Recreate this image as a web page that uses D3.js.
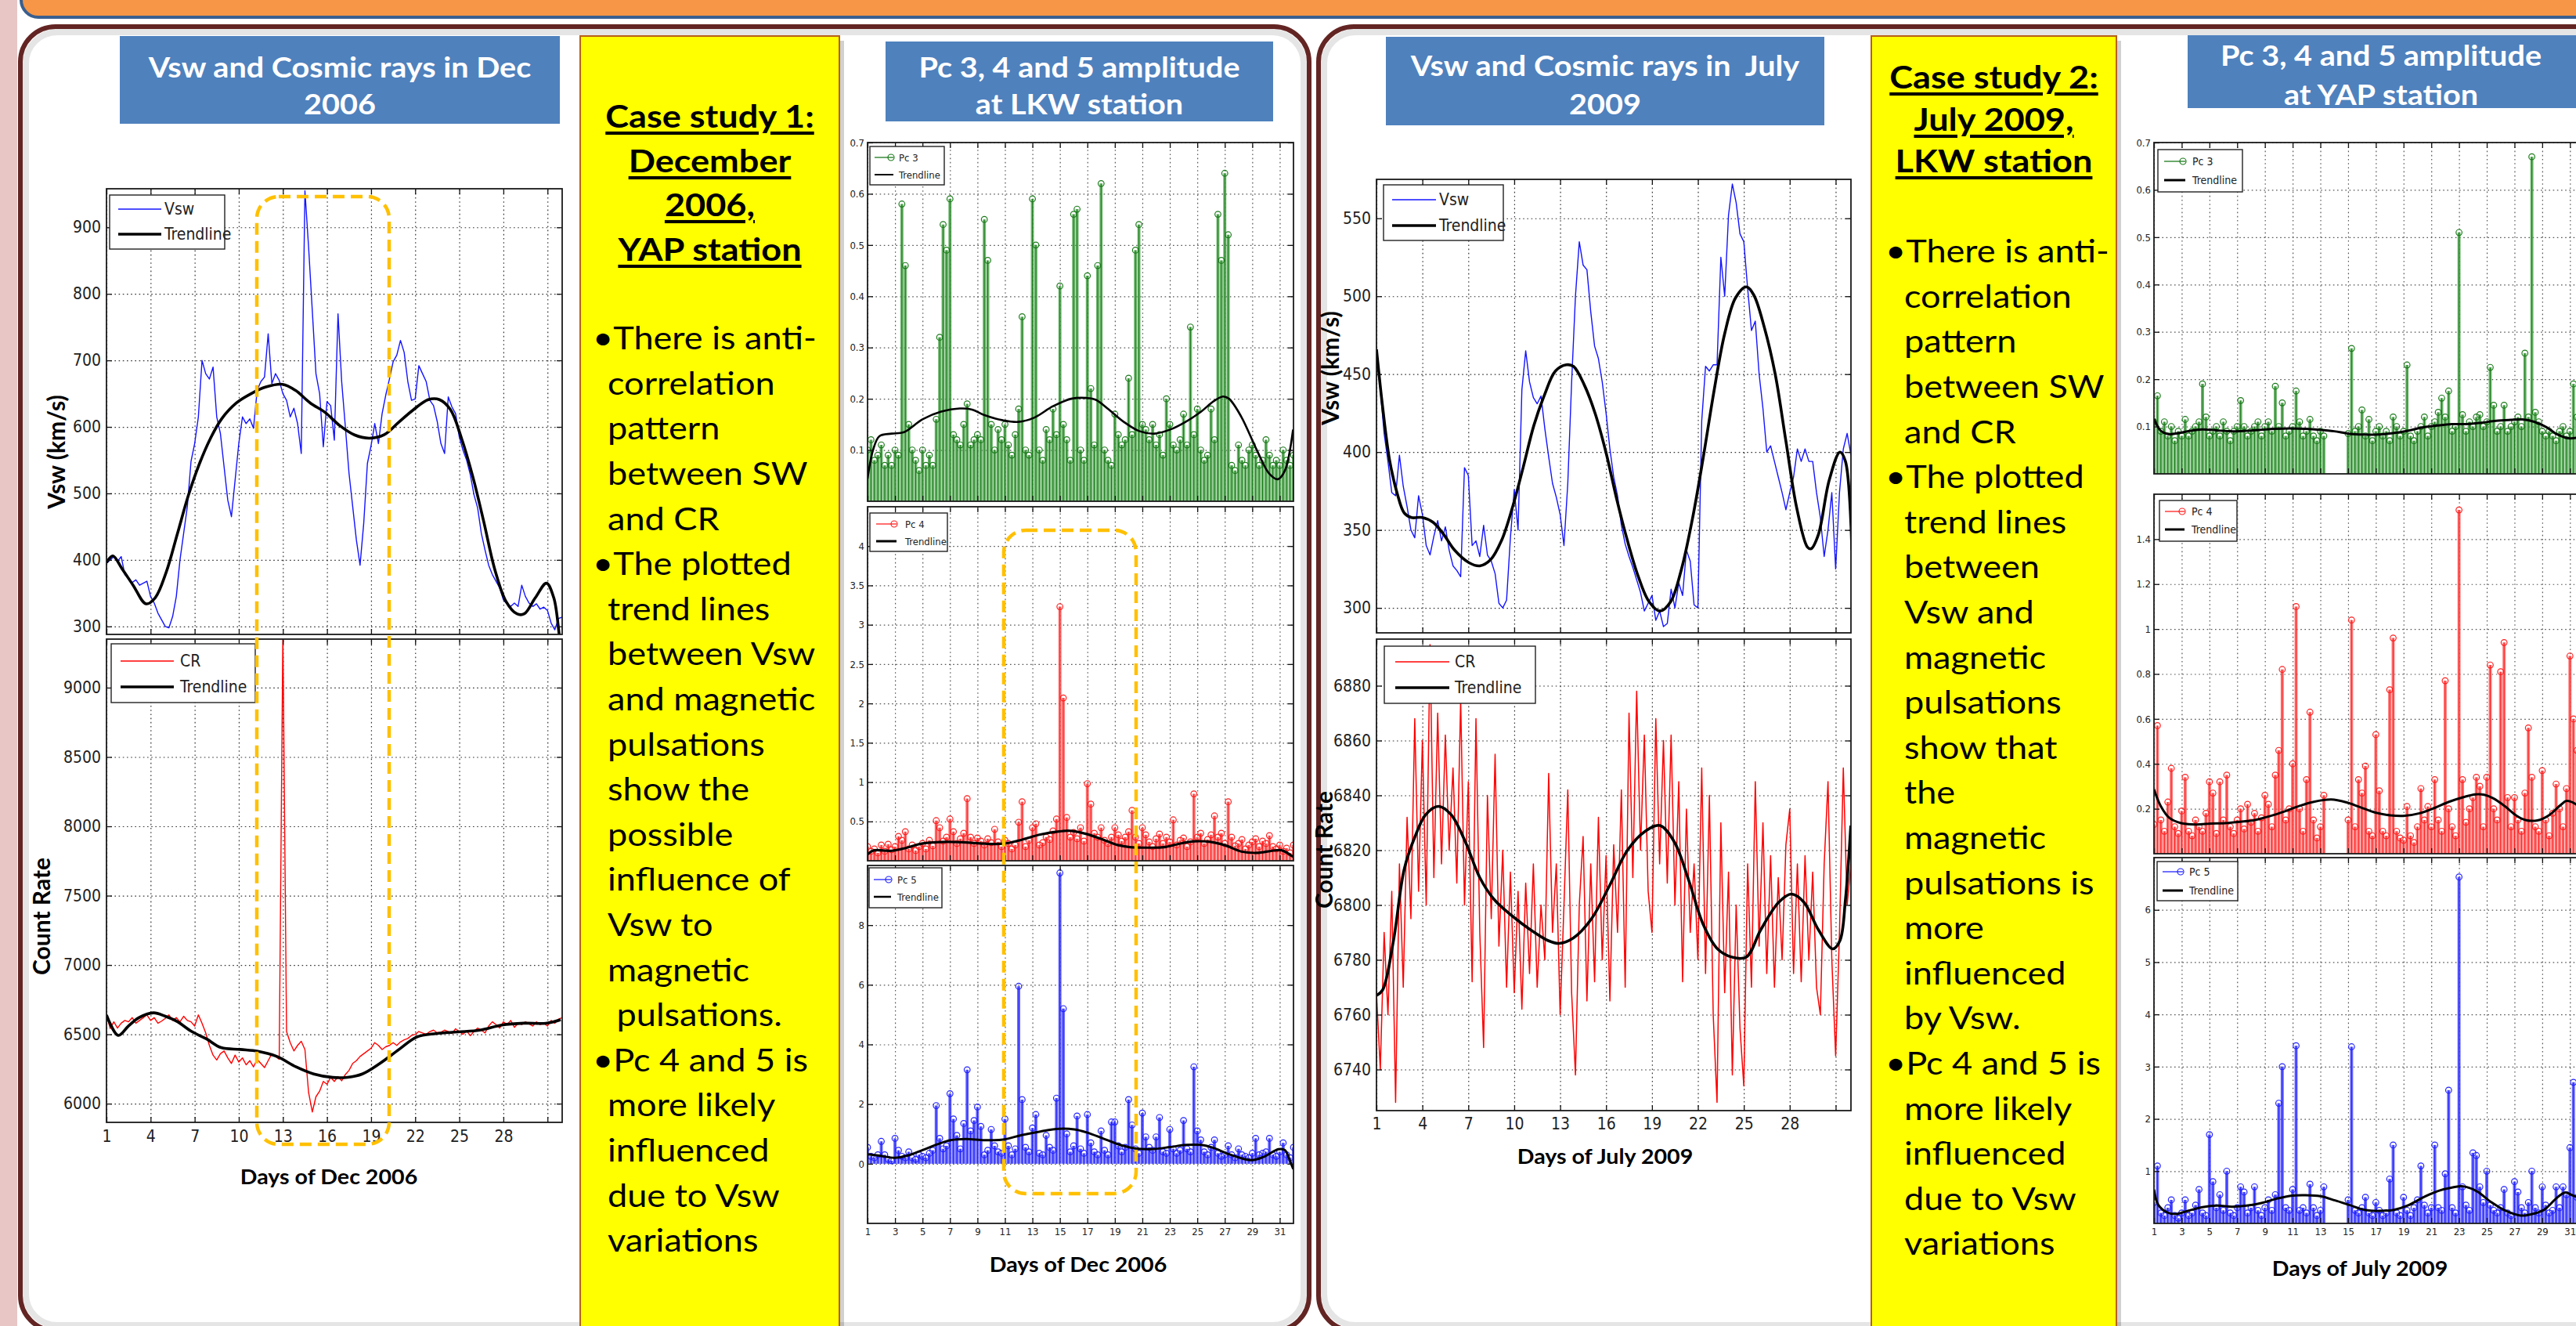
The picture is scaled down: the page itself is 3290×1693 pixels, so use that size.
<!DOCTYPE html>
<html><head><meta charset="utf-8">
<script src="https://cdn.jsdelivr.net/npm/d3@7"></script>
<style>body{margin:0;background:#fff;overflow:hidden}svg{display:block}</style>
</head><body>
<svg id="c" width="3290" height="1693"></svg>
<script>
// ================= DATA =================
const STEP = 0.25; // samples every 6 hours starting on day 1
// --- Dec 2006 solar wind speed (km/s) ---
const vswDec = [395,400,405,398,405,378,372,366,370,362,
365,368,345,335,320,310,300,298,315,345,
400,440,480,548,575,615,700,680,672,690,
615,590,540,490,465,520,575,615,605,612,
598,655,668,675,740,665,680,670,650,640,
615,628,605,560,955,870,775,680,650,570,
638,632,580,770,668,600,530,480,430,392,
455,545,572,605,575,620,648,672,698,708,
730,712,668,640,642,692,680,668,640,632,
608,575,560,645,630,620,585,565,550,528,
498,478,440,415,392,378,368,358,340,334,
330,335,330,362,345,335,330,334,326,329,
324,305,295,312,314];
const vswDecTrend = [[1,396],[1.43,406],[2.05,387],[2.81,362],[3.69,334],[4.31,343],[5.07,382],[5.82,439],[6.57,497],[7.33,545],[8.08,583],[8.83,612],[9.84,636],[10.84,650],[11.85,660],[12.98,664],[13.85,655],[14.86,636],[15.86,622],[16.87,602],[17.87,588],[18.88,583],[19.88,588],[20.88,607],[21.89,626],[22.89,641],[23.65,641],[24.4,626],[25.15,583],[25.91,526],[26.66,458],[27.41,386],[28.17,338],[28.92,319],[29.42,319],[30.17,343],[30.93,365],[31.43,343],[31.81,286],[31.98,260]];
// --- Dec 2006 cosmic ray count rate ---
const crDec = [6643,6542,6590,6545,6580,6600,6590,6620,6580,6600,
6620,6640,6600,6620,6580,6595,6615,6640,6600,6620,
6590,6630,6600,6590,6560,6640,6580,6510,6420,6350,
6315,6360,6380,6330,6290,6350,6300,6330,6280,6310,
6265,6320,6290,6260,6310,6360,6340,6320,9400,6520,
6440,6380,6420,6450,6390,6080,5940,6050,6090,6160,
6140,6190,6160,6195,6165,6210,6240,6290,6310,6340,
6360,6380,6400,6440,6420,6390,6410,6420,6440,6420,
6445,6460,6470,6492,6500,6520,6510,6500,6520,6530,
6510,6515,6530,6520,6505,6540,6520,6500,6525,6490,
6520,6545,6530,6510,6560,6590,6570,6545,6590,6570,
6600,6550,6580,6570,6590,6575,6560,6590,6570,6580,
6560,6600,6580,6610,6620];
const crDecTrend = [[1,6640],[1.8,6492],[2.5,6560],[3.2,6620],[4.2,6655],[5,6630],[5.8,6593],[6.8,6520],[7.8,6467],[8.8,6404],[10.1,6391],[11.3,6378],[12.6,6340],[13.9,6265],[15.1,6214],[16.4,6189],[17.4,6190],[18.4,6214],[19.6,6290],[20.9,6391],[22.1,6480],[23.4,6505],[24.9,6517],[26.4,6530],[27.9,6567],[29.4,6580],[30.9,6580],[31.9,6605]];
// --- Dec 2006 Pc amplitudes at LKW ---
const pc3Dec = [.10,.12,.08,.09,.11,.07,.09,.07,.10,.09,
.58,.46,.15,.10,.08,.06,.10,.07,.09,.07,
.16,.32,.54,.49,.59,.13,.12,.11,.15,.19,
.11,.12,.13,.12,.55,.47,.15,.10,.14,.12,
.15,.11,.09,.13,.18,.36,.10,.09,.59,.50,
.10,.08,.14,.12,.18,.13,.42,.15,.12,.08,
.56,.57,.10,.08,.44,.22,.11,.46,.62,.10,
.08,.07,.17,.13,.11,.12,.24,.13,.49,.54,
.15,.14,.12,.15,.11,.13,.09,.20,.15,.11,
.10,.12,.17,.11,.34,.13,.18,.10,.08,.09,
.18,.12,.56,.47,.64,.52,.07,.06,.11,.08,
.07,.10,.11,.09,.07,.08,.12,.09,.07,.08,
.07,.10,.08,.07,.09];
const pc3DecTrend = [[1,0.044],[1.4,0.10],[1.86,0.127],[2.76,0.132],[3.66,0.135],[5,0.16],[6.36,0.175],[7.71,0.181],[8.61,0.179],[9.51,0.168],[10.86,0.158],[11.99,0.155],[13.12,0.163],[14.47,0.185],[15.82,0.20],[16.95,0.2015],[17.62,0.198],[18.52,0.18],[19.65,0.155],[20.77,0.137],[21.9,0.132],[23.03,0.14],[24.15,0.155],[25.28,0.175],[26.18,0.195],[26.86,0.2045],[27.31,0.20],[28.2,0.165],[29.33,0.10],[30.23,0.054],[30.86,0.043],[31.36,0.059],[31.97,0.14]];
const pc4Dec = [.18,.12,.15,.10,.20,.12,.21,.14,.18,.31,
.26,.37,.15,.20,.13,.18,.22,.15,.26,.19,
.51,.42,.25,.30,.53,.37,.22,.28,.35,.79,
.30,.22,.29,.25,.20,.28,.23,.40,.24,.18,
.26,.22,.15,.20,.49,.75,.18,.26,.42,.47,
.20,.23,.30,.27,.38,.53,3.23,2.07,.55,.30,
.36,.28,.42,.25,.98,.72,.35,.30,.42,.26,
.22,.30,.42,.33,.25,.30,.37,.64,.30,.22,
.42,.33,.24,.18,.28,.34,.22,.30,.24,.52,
.20,.26,.29,.18,.24,.85,.30,.35,.22,.27,
.33,.57,.30,.35,.22,.75,.30,.19,.22,.27,
.15,.20,.24,.28,.18,.25,.22,.32,.18,.15,
.20,.12,.16,.10,.20];
const pc4DecTrend = [[1,0.08],[1.41,0.13],[2.76,0.127],[3.88,0.167],[5.01,0.22],[6.81,0.24],[8.16,0.233],[9.51,0.217],[10.86,0.217],[12.22,0.267],[13.57,0.333],[14.92,0.373],[15.82,0.38],[16.95,0.34],[18.07,0.273],[19.2,0.20],[20.1,0.173],[21.45,0.167],[22.58,0.173],[23.7,0.217],[24.83,0.247],[25.95,0.24],[27.08,0.193],[28.21,0.117],[29.33,0.10],[30.46,0.127],[31.14,0.133],[31.97,0.05]];
const pc5Dec = [.55,.25,.20,.30,.75,.30,.15,.10,.85,.45,
.25,.20,.40,.20,.15,.30,.25,.20,.35,.45,
1.95,.85,.50,.60,2.35,1.50,.95,.50,1.35,3.15,
1.10,1.45,1.90,1.25,.30,.45,1.15,.60,.40,.35,
1.50,.60,.30,.50,5.95,2.15,.55,.40,1.20,1.65,
.35,.30,.95,.55,.45,2.20,9.75,5.20,1.00,.40,
.60,1.60,.50,.35,1.65,.70,.40,.30,1.10,.45,
.30,1.40,1.40,.60,.40,.55,2.15,1.30,.50,.35,
1.70,.90,.55,.45,.90,1.55,.40,.35,1.15,.50,
.35,.45,1.45,.50,.40,3.25,1.10,.80,.40,.30,
.55,.80,.35,.25,.30,.60,.30,.20,.50,.30,
.25,.20,.35,.85,.30,.35,.40,.85,.30,.25,
.40,.70,.30,.20,.55];
const pc5DecTrend = [[1,0.32],[1.86,0.27],[2.98,0.2],[3.88,0.27],[5.01,0.46],[6.14,0.66],[7.04,0.79],[8.16,0.83],[9.51,0.79],[10.86,0.81],[12.22,0.96],[13.57,1.08],[14.92,1.17],[16.05,1.15],[16.95,1.05],[18.07,0.86],[19.2,0.66],[20.32,0.53],[21.68,0.49],[23.03,0.56],[24.15,0.63],[25.28,0.63],[26.18,0.53],[27.31,0.32],[28.88,0.12],[29.78,0.22],[30.91,0.49],[31.36,0.46],[31.81,0.02],[31.99,-0.18]];
// --- July 2009 solar wind speed ---
const vswJul = [465,440,412,394,374,372,398,378,365,350,
345,372,360,340,334,346,356,343,352,337,
327,324,320,390,385,340,343,333,353,334,
330,322,303,300,305,345,376,350,440,465,
445,435,431,436,415,397,380,371,360,340,
380,445,500,535,520,517,490,468,460,445,
425,402,384,372,353,341,333,326,318,310,
298,303,308,292,298,288,290,312,300,316,
308,337,330,302,300,420,455,452,456,456,
525,500,552,572,560,540,535,505,478,484,
450,428,400,404,394,384,374,363,374,384,
402,394,402,394,394,374,358,333,350,374,
325,374,402,412,398];
const vswJulTrend = [[1,466],[1.4,429],[1.87,394],[2.34,374],[2.81,361],[3.28,358],[3.99,358],[4.69,355],[5.4,347],[6.11,337],[7.05,329],[7.75,327],[8.46,331],[9.16,343],[9.87,364],[10.58,390],[11.28,417],[11.99,437],[12.69,452],[13.4,456],[13.87,455],[14.58,443],[15.28,425],[15.99,400],[16.69,370],[17.4,343],[18.11,320],[18.81,304],[19.52,298],[20.22,304],[20.93,325],[21.64,357],[22.34,396],[23.05,439],[23.75,476],[24.46,499],[25.16,506],[25.64,501],[26.34,480],[27.05,450],[27.75,407],[28.46,364],[29.16,339],[29.4,338],[29.87,347],[30.58,382],[31.28,400],[31.64,394],[32.06,337]];
// --- July 2009 cosmic ray count rate ---
const crJul = [6768,6740,6790,6760,6805,6728,6815,6770,6832,6795,
6868,6805,6860,6800,6895,6810,6870,6815,6862,6820,
6850,6808,6875,6800,6845,6772,6868,6790,6748,6840,
6795,6855,6785,6820,6770,6812,6768,6805,6762,6808,
6775,6815,6770,6800,6780,6848,6790,6815,6760,6800,
6842,6768,6738,6800,6825,6765,6815,6772,6832,6780,
6818,6765,6822,6790,6842,6770,6870,6810,6878,6820,
6862,6805,6790,6868,6815,6860,6808,6862,6800,6845,
6772,6835,6790,6815,6780,6850,6775,6840,6760,6728,
6830,6768,6812,6738,6800,6755,6734,6815,6770,6845,
6785,6830,6775,6818,6770,6810,6780,6822,6835,6775,
6815,6772,6818,6780,6812,6770,6760,6815,6845,6780,
6745,6790,6850,6800,6815];
const crJulTrend = [[1,6767],[1.4,6769],[2.11,6787],[2.81,6813],[3.52,6825],[4.22,6833],[5.05,6836],[5.87,6833],[6.81,6823],[7.75,6810],[8.69,6802],[9.87,6796],[11.05,6791],[12.22,6787],[12.93,6786],[13.87,6788],[15.05,6795],[16.22,6807],[17.4,6820],[18.58,6827],[19.52,6829],[20.46,6823],[21.4,6809],[22.34,6793],[23.28,6784],[24.22,6781],[25.16,6781],[26.11,6791],[27.28,6801],[28.11,6804],[28.93,6801],[29.87,6791],[30.81,6784],[31.28,6787],[31.64,6802],[31.99,6829]];
// --- July 2009 Pc amplitudes at YAP (gap = no data) ---
const N = null;
const pc3Jul = [.11,.165,.09,.11,.08,.10,.07,.09,.08,.115,
.08,.09,.10,.11,.19,.12,.08,.09,.10,.08,
.11,.09,.07,.09,.10,.155,.10,.08,.09,.10,
.11,.08,.10,.11,.09,.185,.10,.15,.08,.09,
.10,.175,.11,.08,.09,.115,.08,.07,.09,.08,
N,N,N,N,N,N,.085,.265,.09,.10,
.135,.08,.115,.07,.09,.10,.08,.09,.07,.12,
.10,.08,.09,.23,.08,.07,.09,.10,.12,.08,
.10,.11,.13,.16,.12,.175,.09,.10,.51,.125,
.09,.11,.10,.12,.125,.10,.11,.225,.145,.09,
.10,.145,.09,.10,.11,.12,.10,.255,.12,.67,
.13,.11,.09,.08,.09,.08,.07,.09,.10,.08,
.09,.19,.12,.10,.09];
const pc3JulTrend = [[1,0.116],[1.49,0.091],[2.02,0.084],[2.76,0.086],[3.61,0.091],[4.46,0.094],[5.52,0.092],[6.58,0.09],[7.64,0.091],[8.7,0.093],[9.76,0.095],[10.82,0.096],[11.88,0.095],[12.94,0.093],[14.0,0.09],[15.06,0.085],[16.12,0.083],[17.18,0.083],[18.24,0.086],[19.3,0.091],[20.36,0.098],[21.42,0.102],[22.48,0.105],[23.54,0.105],[24.61,0.108],[25.67,0.112],[26.73,0.114],[27.57,0.115],[28.42,0.11],[29.27,0.099],[30.12,0.083],[30.97,0.075],[31.99,0.08]];
const pc4Jul = [.13,.57,.15,.10,.23,.38,.12,.09,.19,.34,
.10,.08,.15,.12,.10,.18,.32,.27,.09,.32,
.15,.35,.12,.09,.15,.20,.11,.22,.14,.18,
.10,.16,.26,.22,.12,.35,.46,.82,.15,.20,
.40,1.10,.20,.10,.33,.63,.15,.07,.12,.26,
N,N,N,N,N,N,.15,1.04,.12,.33,
.27,.39,.10,.08,.53,.28,.10,.08,.73,.96,
.10,.07,.06,.21,.08,.05,.12,.29,.15,.21,
.12,.33,.15,.10,.77,.20,.12,.08,1.53,.33,
.14,.20,.25,.34,.30,.12,.34,.84,.20,.15,
.81,.94,.25,.12,.25,.15,.10,.27,.56,.34,
.12,.10,.37,.15,.08,.18,.31,.20,.12,.29,
.88,.60,.46,.20,.15];
const pc4JulTrend = [[1,0.287],[1.49,0.212],[2.12,0.159],[2.97,0.136],[4.03,0.13],[5.09,0.134],[6.15,0.136],[7.21,0.142],[8.27,0.15],[9.34,0.167],[10.4,0.188],[11.46,0.212],[12.52,0.231],[13.79,0.241],[14.85,0.229],[15.91,0.206],[16.97,0.183],[18.03,0.171],[19.09,0.169],[20.15,0.18],[21.21,0.203],[22.27,0.231],[23.33,0.252],[24.18,0.264],[24.82,0.262],[25.45,0.247],[26.3,0.212],[27.15,0.169],[27.79,0.15],[28.64,0.148],[29.48,0.171],[30.33,0.217],[30.76,0.235],[31.35,0.223],[32,0.19]];
const pc5Jul = [.40,1.10,.20,.15,.30,.45,.15,.10,.20,.45,
.15,.20,.35,.65,.20,.15,1.70,.80,.30,.55,
.25,1.00,.20,.15,.30,.70,.60,.20,.30,.70,
.25,.15,.30,.45,.25,.55,2.30,3.00,.30,.25,
.65,3.40,.25,.30,.20,.75,.30,.15,.25,.70,
N,N,N,N,N,N,.45,3.38,.25,.20,
.30,.50,.20,.15,.40,.25,.15,.20,.85,1.50,
.20,.15,.50,.25,.15,.30,.45,1.10,.35,.20,
.30,1.50,.30,.25,.95,2.55,.30,.20,6.63,.70,
.35,.25,1.35,1.30,.70,.40,1.00,.35,.25,.20,
.30,.65,.20,.15,.80,.60,.30,.20,.40,1.00,
.30,.20,.70,.35,.20,.25,.70,.30,.70,.55,
1.45,2.70,.50,.30,.20];
const pc5JulTrend = [[1,0.65],[1.32,0.35],[1.96,0.21],[2.59,0.18],[3.44,0.24],[4.5,0.31],[5.56,0.34],[6.63,0.32],[7.69,0.34],[8.75,0.39],[9.81,0.47],[10.87,0.53],[11.93,0.54],[13.0,0.52],[14.06,0.44],[15.12,0.35],[16.18,0.26],[17.24,0.24],[18.3,0.26],[19.37,0.35],[20.43,0.50],[21.49,0.62],[22.55,0.69],[23.29,0.71],[24.25,0.62],[25.31,0.41],[26.37,0.24],[27.43,0.15],[28.28,0.18],[29.13,0.26],[29.98,0.47],[30.62,0.59],[31.25,0.53],[32.06,0.45]];
// --- tick values ---
const daysBig = [1,4,7,10,13,16,19,22,25,28,31];
const daysPc = [1,3,5,7,9,11,13,15,17,19,21,23,25,27,29,31];
const vswDecTicks = [300,400,500,600,700,800,900];
const crDecTicks = [6000,6500,7000,7500,8000,8500,9000];
const vswJulTicks = [300,350,400,450,500,550];
const crJulTicks = [6740,6760,6780,6800,6820,6840,6860,6880];
const pc3Ticks = [0.1,0.2,0.3,0.4,0.5,0.6,0.7];
const pc4DecTicks = [0.5,1,1.5,2,2.5,3,3.5,4];
const pc5DecTicks = [0,2,4,6,8];
const pc4JulTicks = [0.2,0.4,0.6,0.8,1,1.2,1.4];
const pc5JulTicks = [1,2,3,4,5,6];
// --- poster texts ---
const boxTitles = [
  ["Vsw and Cosmic rays in Dec","2006"],
  ["Pc 3, 4 and 5 amplitude","at LKW station"],
  ["Vsw and Cosmic rays in  July","2009"],
  ["Pc 3, 4 and 5 amplitude","at YAP station"]];
const head1 = ["Case study 1:","December","2006,","YAP station"];
const body1 = ["\u2022There is anti-","correlation","pattern","between SW","and CR","\u2022The plotted","trend lines","between Vsw","and magnetic","pulsations","show the","possible","influence of","Vsw to","magnetic"," pulsations.","\u2022Pc 4 and 5 is","more likely","influenced","due to Vsw","variations"];
const head2 = ["Case study 2:","July 2009,","LKW station"];
const body2 = ["\u2022There is anti-","correlation","pattern","between SW","and CR","\u2022The plotted","trend lines","between","Vsw and","magnetic","pulsations","show that","the","magnetic","pulsations is","more","influenced","by Vsw.","\u2022Pc 4 and 5 is","more likely","influenced","due to Vsw","variations"];

// ================= DRAWING =================
const TICKF = "'Liberation Sans Narrow','DejaVu Sans Condensed','Liberation Sans',sans-serif";
const POSTF = "Lato,'Open Sans',sans-serif";
const SX = 1.1;
const svg = d3.select('#c');
const defs = svg.append('defs');
svg.append('rect').attr('width',3290).attr('height',1693).attr('fill','#fff');

// poster frame
svg.append('rect').attr('x',0).attr('y',0).attr('width',22).attr('height',1693).attr('fill','#E8C6C6');
svg.append('rect').attr('x',27).attr('y',-40).attr('width',3320).attr('height',62).attr('rx',22)
  .attr('fill','#F79646').attr('stroke','#3A5F8F').attr('stroke-width',4);
[[26,1646],[1684,1700]].forEach(([x,w])=>{
  svg.append('rect').attr('x',x).attr('y',34).attr('width',w).attr('height',1665).attr('rx',45)
    .attr('fill','#fff').attr('stroke','#632523').attr('stroke-width',6);
  svg.append('rect').attr('x',x+7).attr('y',41).attr('width',w-14).attr('height',1651).attr('rx',40)
    .attr('fill','none').attr('stroke','rgba(0,0,0,0.10)').attr('stroke-width',8);
});

function ptext(t, x, y, o) {
  const el = svg.append('text').attr('transform',`translate(${x},${y}) scale(${SX},1)`)
    .attr('font-family',POSTF).attr('font-size',o.fs).attr('font-weight',o.bold?700:400)
    .attr('fill',o.fill||'#000').attr('text-anchor',o.anchor||'middle').attr('dominant-baseline','central')
    .style('white-space','pre').text(t);
  if (o.underline) el.style('text-decoration','underline');
  return el;
}

// blue title boxes
const blueBoxes = [[153,46,562,112,[85,132]],[1131,53,495,102,[85,132]],[1770,47,560,113,[83,132]],[2794,45,520,93,[70,120]]];
blueBoxes.forEach((b,i)=>{
  svg.append('rect').attr('x',b[0]).attr('y',b[1]).attr('width',b[2]).attr('height',b[3]).attr('fill','#4F81BD');
  const cx = i===3 ? 3041 : b[0]+b[2]/2;
  boxTitles[i].forEach((t,j)=>ptext(t,cx,b[4][j],{fs:36,bold:true,fill:'#fff'}));
});

// yellow text boxes
function yellowBox(x,w,heads,headY,body,bodyY0,bx,tx){
  svg.append('rect').attr('x',x+6).attr('y',52).attr('width',w).attr('height',1700).attr('fill','rgba(0,0,0,0.18)');
  svg.append('rect').attr('x',x).attr('y',46).attr('width',w).attr('height',1700).attr('fill','#FFFF00')
    .attr('stroke','#B8611A').attr('stroke-width',2);
  heads.forEach((t,i)=>ptext(t,x+w/2,headY[i],{fs:41,bold:true,underline:true}));
  body.forEach((t,i)=>{
    const isB = t[0]==='\u2022';
    ptext(t,isB?bx:tx,bodyY0+i*57.6,{fs:41,anchor:'start'});
  });
}
yellowBox(741,331,head1,[147,204,260,317],body1,430,757,776);
yellowBox(2390,313,head2,[97,151,204],body2,319,2408,2432);

// ---------- plot helpers ----------
let clipN = 0;
function makePlot(o){
  const x = d3.scaleLinear().domain(o.xd).range([o.x0,o.x1]);
  const y = d3.scaleLinear().domain(o.yd).range([o.y1,o.y0]);
  const W = o.x1-o.x0, H = o.y1-o.y0;
  const id = 'clip'+(clipN++);
  defs.append('clipPath').attr('id',id).append('rect').attr('x',o.x0).attr('y',o.y0).attr('width',W).attr('height',H);
  const g = svg.append('g');
  g.append('rect').attr('x',o.x0).attr('y',o.y0).attr('width',W).attr('height',H).attr('fill','#fff');
  const gg = g.append('g').attr('clip-path',`url(#${id})`);
  const gx = gg.append('g').attr('transform',`translate(0,${o.y1})`).call(d3.axisBottom(x).tickValues(o.xt).tickSize(-H).tickFormat(''));
  const gy = gg.append('g').attr('transform',`translate(${o.x0},0)`).call(d3.axisLeft(y).tickValues(o.yt).tickSize(-W).tickFormat(''));
  [gx,gy].forEach(a=>{a.select('.domain').remove();
    a.selectAll('line').attr('stroke',o.gridCol||'#333').attr('stroke-width',1.2).attr('stroke-dasharray','1.6,3.6');});
  const data = g.append('g').attr('clip-path',`url(#${id})`);
  return {x,y,g,data,o,W,H};
}
function finishPlot(p){
  const o=p.o, tk=o.tk||7;
  const fmt = d => String(+(+d).toFixed(2));
  const style = a => { a.select('.domain').remove();
    a.selectAll('line').attr('stroke','#111').attr('stroke-width',1.3);
    a.selectAll('text').attr('font-family',TICKF).attr('font-size',o.fs).attr('fill','#222'); };
  style(p.g.append('g').attr('transform',`translate(${o.x0},0)`).call(d3.axisLeft(p.y).tickValues(o.yt).tickSize(-tk).tickPadding(o.pad||6).tickFormat(fmt)));
  style(p.g.append('g').attr('transform',`translate(${o.x1},0)`).call(d3.axisRight(p.y).tickValues(o.yt).tickSize(-tk).tickFormat('')));
  style(p.g.append('g').attr('transform',`translate(0,${o.y1})`).call(d3.axisBottom(p.x).tickValues(o.xt).tickSize(-tk).tickPadding(o.xpad||8)
     .tickFormat(o.xlab ? (d => d===31 && o.skip31 ? '' : d) : '')));
  style(p.g.append('g').attr('transform',`translate(0,${o.y0})`).call(d3.axisTop(p.x).tickValues(o.xt).tickSize(-tk).tickFormat('')));
  p.g.append('rect').attr('x',o.x0).attr('y',o.y0).attr('width',p.W).attr('height',p.H)
    .attr('fill','none').attr('stroke','#1a1a1a').attr('stroke-width',1.8);
}
function drawLine(p, vals, color, w){
  const pts = vals.map((v,i)=>[1+i*STEP, v]);
  p.data.append('path').datum(pts).attr('d',d3.line().x(d=>p.x(d[0])).y(d=>p.y(d[1])))
    .attr('fill','none').attr('stroke',color).attr('stroke-width',w).attr('stroke-linejoin','round');
}
function drawTrend(p, pairs, w){
  p.data.append('path').datum(pairs).attr('d',d3.line().curve(d3.curveCatmullRom.alpha(0.5)).x(d=>p.x(d[0])).y(d=>p.y(d[1])))
    .attr('fill','none').attr('stroke','#000').attr('stroke-width',w).attr('stroke-linejoin','round');
}
function drawStems(p, vals, light, dark){
  const pts = vals.map((v,i)=>[1+i*STEP, v]).filter(d=>d[1]!==null);
  const y0 = p.y(0);
  p.data.selectAll(null).data(pts).enter().append('line')
    .attr('x1',d=>p.x(d[0])).attr('x2',d=>p.x(d[0])).attr('y1',y0).attr('y2',d=>p.y(d[1]))
    .attr('stroke',light).attr('stroke-width',4).attr('stroke-opacity',0.8);
  p.data.selectAll(null).data(pts).enter().append('line')
    .attr('x1',d=>p.x(d[0])).attr('x2',d=>p.x(d[0])).attr('y1',y0).attr('y2',d=>p.y(d[1]))
    .attr('stroke',dark).attr('stroke-width',1);
  p.data.selectAll(null).data(pts).enter().append('circle')
    .attr('cx',d=>p.x(d[0])).attr('cy',d=>p.y(d[1])).attr('r',3.8)
    .attr('fill','none').attr('stroke',dark).attr('stroke-width',1.2);
}
function legend(b){
  const g = svg.append('g');
  g.append('rect').attr('x',b.x).attr('y',b.y).attr('width',b.w).attr('height',b.h)
    .attr('fill','#fff').attr('stroke','#222').attr('stroke-width',1.4);
  b.rows.forEach(r=>{
    g.append('line').attr('x1',b.l0).attr('x2',b.l1).attr('y1',r.y).attr('y2',r.y).attr('stroke',r.c).attr('stroke-width',r.w);
    if (r.m) g.append('circle').attr('cx',b.l1-3).attr('cy',r.y).attr('r',4).attr('fill','none').attr('stroke',r.c).attr('stroke-width',1.2);
    g.append('text').attr('x',b.tx).attr('y',r.y).attr('dominant-baseline','central')
      .attr('font-family',TICKF).attr('font-size',b.fs).attr('fill','#222').text(r.t);
  });
}
function axisTitle(t,x,y,rot,fs){
  svg.append('text').attr('transform',`translate(${x},${y}) rotate(${rot}) scale(${rot?1:SX},1)`)
    .attr('font-family',POSTF).attr('font-weight',700).attr('font-size',fs).attr('text-anchor','middle')
    .attr('dominant-baseline','central').attr('fill','#000').text(t);
}

// ---------- Dec 2006: Vsw & CR ----------
const pVD = makePlot({x0:136,x1:718,y0:241,y1:810,xd:[1,32],yd:[288,958],xt:daysBig,yt:vswDecTicks,fs:21,pad:7});
drawLine(pVD, vswDec, '#1414FF', 1.4); drawTrend(pVD, vswDecTrend, 3.6); finishPlot(pVD);
const pCD = makePlot({x0:136,x1:718,y0:816,y1:1433,xd:[1,32],yd:[5865,9350],xt:daysBig,yt:crDecTicks,fs:21,pad:7,xlab:true,skip31:true,xpad:10});
drawLine(pCD, crDec, '#FF0000', 1.4); drawTrend(pCD, crDecTrend, 3.6); finishPlot(pCD);
legend({x:140,y:249,w:147,h:69,fs:21,l0:151,l1:206,tx:210,rows:[{y:267,t:'Vsw',c:'#1414FF',w:1.5},{y:299,t:'Trendline',c:'#000',w:3.5}]});
legend({x:142,y:822,w:184,h:75,fs:21,l0:154,l1:222,tx:230,rows:[{y:844,t:'CR',c:'#FF0000',w:1.5},{y:877,t:'Trendline',c:'#000',w:3.5}]});
axisTitle('Vsw (km/s)',71,577,-90,30);
axisTitle('Count Rate',52,1170,-90,30);
axisTitle('Days of Dec 2006',420,1502,0,26);

// ---------- Dec 2006: Pc at LKW ----------
const pcX = {x0:1108,x1:1652,xd:[1,32],xt:daysPc,fs:13,pad:4,gridCol:'#555'};
const p3D = makePlot(Object.assign({},pcX,{y0:182,y1:640,yd:[0,0.7],yt:pc3Ticks}));
drawStems(p3D, pc3Dec, '#4FA84F', '#1B7A1B'); drawTrend(p3D, pc3DecTrend, 2.6); finishPlot(p3D);
const p4D = makePlot(Object.assign({},pcX,{y0:647,y1:1099,yd:[0,4.5],yt:pc4DecTicks}));
drawStems(p4D, pc4Dec, '#FF5A5A', '#FF2020'); drawTrend(p4D, pc4DecTrend, 3.2); finishPlot(p4D);
const p5D = makePlot(Object.assign({},pcX,{y0:1105,y1:1562,yd:[-2,10],yt:pc5DecTicks,xlab:true,xpad:6}));
drawStems(p5D, pc5Dec, '#4646FF', '#2222FF'); drawTrend(p5D, pc5DecTrend, 3); finishPlot(p5D);
legend({x:1111,y:187,w:95,h:49,fs:13,l0:1117,l1:1141,tx:1148,rows:[{y:201,t:'Pc 3',c:'#1B7A1B',w:1.3,m:true},{y:223,t:'Trendline',c:'#000',w:2}]});
legend({x:1111,y:655,w:99,h:49,fs:13,l0:1119,l1:1145,tx:1156,rows:[{y:669,t:'Pc 4',c:'#FF2020',w:1.3,m:true},{y:691,t:'Trendline',c:'#000',w:3}]});
legend({x:1110,y:1108,w:93,h:51,fs:13,l0:1116,l1:1138,tx:1146,rows:[{y:1123,t:'Pc 5',c:'#2222FF',w:1.3,m:true},{y:1145,t:'Trendline',c:'#000',w:2.5}]});
axisTitle('Days of Dec 2006',1377,1614,0,26);

// ---------- July 2009: Vsw & CR ----------
const pVJ = makePlot({x0:1758,x1:2364,y0:229,y1:808,xd:[1,32],yd:[284,575],xt:daysBig,yt:vswJulTicks,fs:21,pad:7});
drawLine(pVJ, vswJul, '#1414FF', 1.4); drawTrend(pVJ, vswJulTrend, 3.6); finishPlot(pVJ);
const pCJ = makePlot({x0:1758,x1:2364,y0:816,y1:1418,xd:[1,32],yd:[6725,6897],xt:daysBig,yt:crJulTicks,fs:21,pad:7,xlab:true,skip31:true,xpad:9});
drawLine(pCJ, crJul, '#FF0000', 1.5); drawTrend(pCJ, crJulTrend, 3.6); finishPlot(pCJ);
legend({x:1767,y:236,w:153,h:71,fs:21,l0:1778,l1:1834,tx:1838,rows:[{y:255,t:'Vsw',c:'#1414FF',w:1.5},{y:288,t:'Trendline',c:'#000',w:3.5}]});
legend({x:1768,y:825,w:193,h:73,fs:21,l0:1782,l1:1851,tx:1858,rows:[{y:845,t:'CR',c:'#FF0000',w:1.5},{y:878,t:'Trendline',c:'#000',w:3.5}]});
axisTitle('Vsw (km/s)',1698,470,-90,30);
axisTitle('Count Rate',1690,1085,-90,30);
axisTitle('Days of July 2009',2050,1476,0,26);

// ---------- July 2009: Pc at YAP ----------
const pcJ = {x0:2751,x1:3300,xd:[1,32],xt:daysPc,fs:13,pad:4,gridCol:'#555'};
const p3J = makePlot(Object.assign({},pcJ,{y0:182,y1:605,yd:[0,0.7],yt:pc3Ticks}));
drawStems(p3J, pc3Jul, '#4FA84F', '#1B7A1B'); drawTrend(p3J, pc3JulTrend, 3); finishPlot(p3J);
const p4J = makePlot(Object.assign({},pcJ,{y0:631,y1:1090,yd:[0,1.6],yt:pc4JulTicks}));
drawStems(p4J, pc4Jul, '#FF5A5A', '#FF2020'); drawTrend(p4J, pc4JulTrend, 3); finishPlot(p4J);
const p5J = makePlot(Object.assign({},pcJ,{y0:1095,y1:1562,yd:[0,7],yt:pc5JulTicks,xlab:true,xpad:6}));
drawStems(p5J, pc5Jul, '#4646FF', '#2222FF'); drawTrend(p5J, pc5JulTrend, 3); finishPlot(p5J);
legend({x:2756,y:191,w:108,h:54,fs:14,l0:2764,l1:2791,tx:2800,rows:[{y:206,t:'Pc 3',c:'#1B7A1B',w:1.3,m:true},{y:230,t:'Trendline',c:'#000',w:3}]});
legend({x:2758,y:639,w:99,h:52,fs:14,l0:2765,l1:2790,tx:2799,rows:[{y:653,t:'Pc 4',c:'#FF2020',w:1.3,m:true},{y:676,t:'Trendline',c:'#000',w:3}]});
legend({x:2755,y:1100,w:103,h:50,fs:14,l0:2762,l1:2788,tx:2796,rows:[{y:1113,t:'Pc 5',c:'#2222FF',w:1.3,m:true},{y:1137,t:'Trendline',c:'#000',w:3}]});
axisTitle('Days of July 2009',3014,1619,0,26);

// ---------- highlight boxes ----------
[[328,251,169,1210],[1282,677,169,847]].forEach(b=>{
  svg.append('rect').attr('x',b[0]).attr('y',b[1]).attr('width',b[2]).attr('height',b[3]).attr('rx',28)
    .attr('fill','none').attr('stroke','#FFC000').attr('stroke-width',4.5).attr('stroke-dasharray','15,8');
});
</script>
</body></html>
